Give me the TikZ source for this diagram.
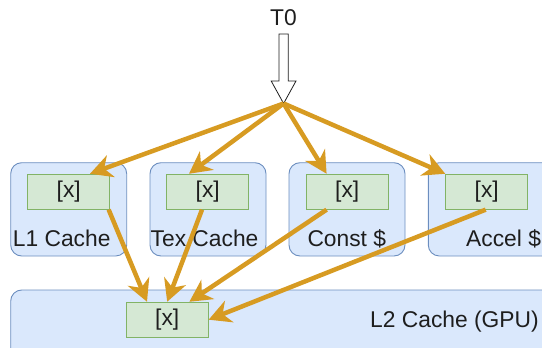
\documentclass[tikz,border=0pt]{standalone}
\usepackage{fontspec}
\setmainfont{Liberation Sans}
\usetikzlibrary{arrows.meta}
\definecolor{cachefill}{HTML}{DAE8FC}
\definecolor{cacheline}{HTML}{6C8EBF}
\definecolor{slotfill}{HTML}{D5E8D4}
\definecolor{slotline}{HTML}{82B366}
\definecolor{hitcol}{HTML}{D79B22}
\definecolor{txt}{HTML}{1E1E1E}

\begin{document}
\begin{tikzpicture}[x=1pt,y=-1pt,
    cache/.style={draw=cacheline,fill=cachefill,line width=0.9pt,rounded corners=11pt},
    slot/.style={draw=slotline,fill=slotfill,line width=0.9pt,minimum width=82pt,
        minimum height=35pt,inner sep=0pt,text=txt,font=\fontsize{22.8}{27}\selectfont},
    lbl/.style={inner sep=0pt,anchor=base west,text=txt,font=\fontsize{22.8}{27}\selectfont},
    hit/.style={draw=hitcol,line width=4.5pt,-{Stealth[length=22pt,width=23pt,inset=7pt]}}]
\useasboundingbox (0,0) rectangle (542,348);

% cache blocks
\draw[cache] (10.7,162.7) rectangle (126.7,256);
\draw[cache] (150,162.7) rectangle (266,256);
\draw[cache] (289,162.7) rectangle (405,256);
\draw[cache] (428.3,162.7) rectangle (556,256);
\draw[cache] (10.7,290) rectangle (556,362);

\node[lbl] (l1) at (12.7,246.7) {L1 Cache};
\node[lbl] (tex) at (150.5,246.7) {Tex Cache};
\node[lbl] (const) at (307.3,246.7) {Const \$};
\node[lbl] (accel) at (466,246.7) {Accel \$};
\node[lbl] (l2) at (370,327) {L2 Cache (GPU)};

% the line x in each cache
\node[slot] (l1x) at (68.7,191.7) {[x]};
\node[slot] (texx) at (207.7,191.7) {[x]};
\node[slot] (constx) at (347.2,191.7) {[x]};
\node[slot] (accelx) at (486.7,191.7) {[x]};
\node[slot] (l2x) at (167.2,319.7) {[x]};

% thread
\node[lbl] (t0) at (270,26) {T0};
\coordinate (fork) at (283.6,103.5);
\draw[line width=0.8pt,draw=txt,fill=white] (fork) -- ++(-12.4,-22.5) -- ++(7.8,0)
    -- ++(0,-47) -- ++(9.2,0) -- ++(0,47) -- ++(7.8,0) -- cycle;

\draw[hit] (fork) -- ([xshift=21.3pt]l1x.north);
\draw[hit] (fork) -- ([xshift=-18.7pt]texx.north);
\draw[hit] (fork) -- ([xshift=-20.6pt]constx.north);
\draw[hit] (fork) -- (accelx.north west);

\draw[hit] ([xshift=-1.5pt]l1x.south east) -- ([xshift=-20.2pt]l2x.north);
\draw[hit] ([xshift=-5.7pt]texx.south) -- (l2x.north);
\draw[hit] ([xshift=-20.6pt]constx.south) -- ([xshift=22.2pt]l2x.north);
\draw[hit] ([xshift=-1pt]accelx.south) -- (l2x.east);

\end{tikzpicture}
\end{document}
